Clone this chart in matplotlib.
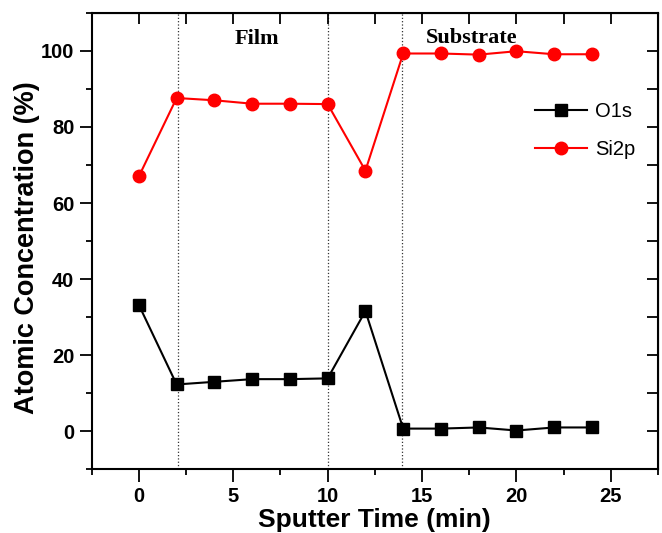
#!/usr/bin/env python3
"""XPS depth profile: atomic concentration vs sputter time."""
import matplotlib

matplotlib.use("Agg")
import matplotlib.pyplot as plt
from matplotlib.ticker import MultipleLocator

# data
sputter_time = [0, 2, 4, 6, 8, 10, 12, 14, 16, 18, 20, 22, 24]
o1s = [33.2, 12.3, 13.0, 13.7, 13.7, 13.9, 31.6, 0.7, 0.7, 1.0, 0.2, 1.0, 1.0]
si2p = [67.0, 87.6, 87.0, 86.1, 86.1, 86.0, 68.5, 99.3, 99.3, 99.0, 99.9, 99.1, 99.1]
boundaries = [2.05, 10.0, 13.93]
regions = [("Film", 6.25, 103.0), ("Substrate", 17.65, 103.3)]

SANS = "Liberation Sans"
SERIF = "Liberation Serif"

fig = plt.figure(figsize=(6.62, 5.33), dpi=100)
ax = fig.add_axes([0.1385, 0.1195, 0.8555, 0.8565])

ax.plot(sputter_time, o1s, color="black", marker="s", markersize=8.5,
        linewidth=1.5, label="O1s")
ax.plot(sputter_time, si2p, color="#ff0000", marker="o", markersize=9,
        linewidth=1.5, label="Si2p")

for xb in boundaries:
    ax.axvline(xb, color="#333333", linestyle=":", linewidth=0.9, zorder=0)

for name, xt, yt in regions:
    ax.text(xt, yt, name, ha="center", va="center", fontsize=16,
            fontweight="bold", family=SERIF)

ax.set_xlim(-2.5, 27.5)
ax.set_ylim(-10, 110)
ax.xaxis.set_major_locator(MultipleLocator(5))
ax.xaxis.set_minor_locator(MultipleLocator(2.5))
ax.yaxis.set_major_locator(MultipleLocator(20))
ax.yaxis.set_minor_locator(MultipleLocator(10))
ax.tick_params(which="major", direction="out", length=9, width=1.3,
               labelsize=14.5)
ax.tick_params(which="minor", direction="out", length=4.5, width=1.3)
for lab in ax.get_xticklabels() + ax.get_yticklabels():
    lab.set_fontweight("bold")
    lab.set_family(SANS)
for sp in ax.spines.values():
    sp.set_linewidth(1.5)

top = ax.secondary_xaxis("top")
top.xaxis.set_major_locator(MultipleLocator(2.5))
top.tick_params(direction="in", length=8, width=1.3, labeltop=False)
right = ax.secondary_yaxis("right")
right.yaxis.set_major_locator(MultipleLocator(10))
right.tick_params(direction="in", length=8, width=1.3, labelright=False)

ax.set_xlabel("Sputter Time (min)", fontsize=19, fontweight="bold",
              family=SANS, labelpad=2)
ax.set_ylabel("Atomic Concentration (%)", fontsize=19.5, fontweight="bold",
              family=SANS, labelpad=1)
ax.yaxis.label.set_y(0.485)

ax.legend(loc="upper left", bbox_to_anchor=(0.75, 0.845), frameon=False,
          handlelength=2.6, prop={"family": SANS, "size": 14.5},
          labelspacing=0.95, handletextpad=0.4)

fig.savefig("out.png", dpi=100)
